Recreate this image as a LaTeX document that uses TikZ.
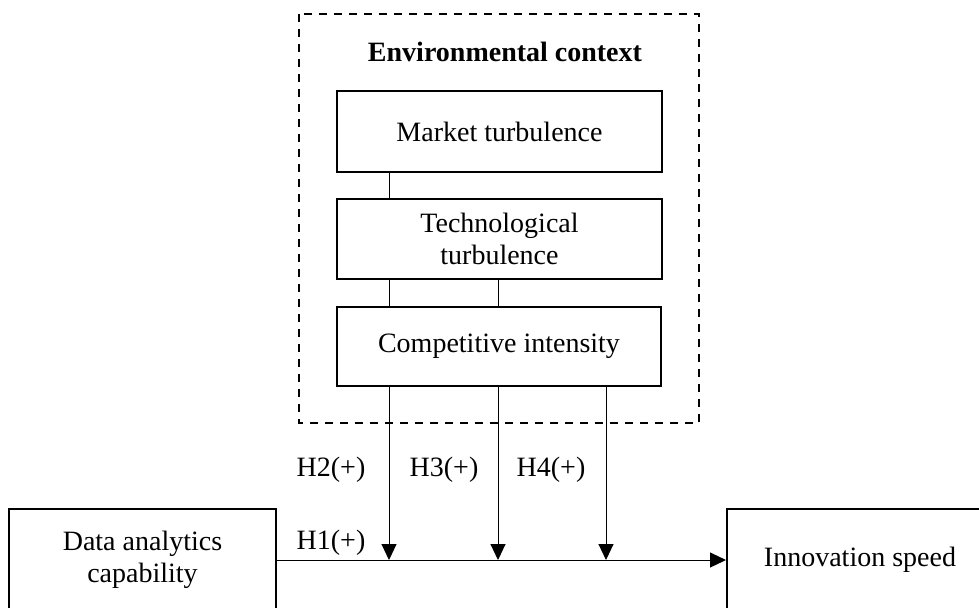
\documentclass[tikz,border=0pt]{standalone}
\usepackage{fontspec}
\setmainfont{Liberation Serif}
\usetikzlibrary{arrows.meta, positioning}

\begin{document}
\begin{tikzpicture}[
    x=0.5pt, y=-0.5pt,
    >={Triangle[length=8pt, width=7.5pt]},
    arr/.style={->, line width=0.5pt},
    link/.style={line width=0.5pt},
    lbl/.style={font=\fontsize{14}{16}\selectfont},
    box/.style={draw, line width=1pt, align=center, inner sep=0pt,
                font=\fontsize{14}{16}\selectfont},
    env/.style={draw, dashed, line width=1pt, dash pattern=on 4pt off 3.5pt},
]
\useasboundingbox (0,0) rectangle (979,607);
% ============================================================
% Environmental context (dashed frame + moderators)
% ============================================================
\draw[env] (299,14) rectangle (699,423);
\node[lbl, font=\fontsize{14}{16}\selectfont\bfseries] (envtitle) at (505,52) {Environmental context};
\node[box, minimum width=162.5pt, minimum height=40.5pt] (market) at (499.5,131.5) {Market turbulence};
\node[box, minimum width=162.5pt, minimum height=40pt] (techno) at (499.5,239) {Technological\\turbulence};
\node[box, minimum width=162pt, minimum height=39.5pt] (compet) at (499,346.5) {Competitive intensity};
% ============================================================
% Main effect: data analytics -> innovation speed
% ============================================================
\node[box, minimum width=133.5pt, minimum height=51pt] (data) at (142.5,560) {Data analytics\\capability};
\node[box, minimum width=133pt, minimum height=51pt] (speed) at (860,560) {Innovation speed};
\draw[arr] (data.east) -- (speed.west);
\node[lbl] (h1) at (331,543) {H1(+)};
% --- meeting points on the main path ---
\coordinate (m2) at (389,560);
\coordinate (m3) at (498,560);
\coordinate (m4) at (606,560);
% links between the moderators
\draw[link] (market.south -| m2) -- (techno.north -| m2);
\draw[link] (techno.south -| m2) -- (compet.north -| m2);
\draw[link] (techno.south -| m3) -- (compet.north -| m3);
% --- moderating arrows ---
\draw[arr] (compet.south -| m2) -- (m2);
\draw[arr] (compet.south -| m3) -- (m3);
\draw[arr] (compet.south -| m4) -- (m4);
\node[lbl] (h2) at (331,470) {H2(+)};
\node[lbl] (h3) at (444,470) {H3(+)};
\node[lbl] (h4) at (551,470) {H4(+)};
\end{tikzpicture}
\end{document}
